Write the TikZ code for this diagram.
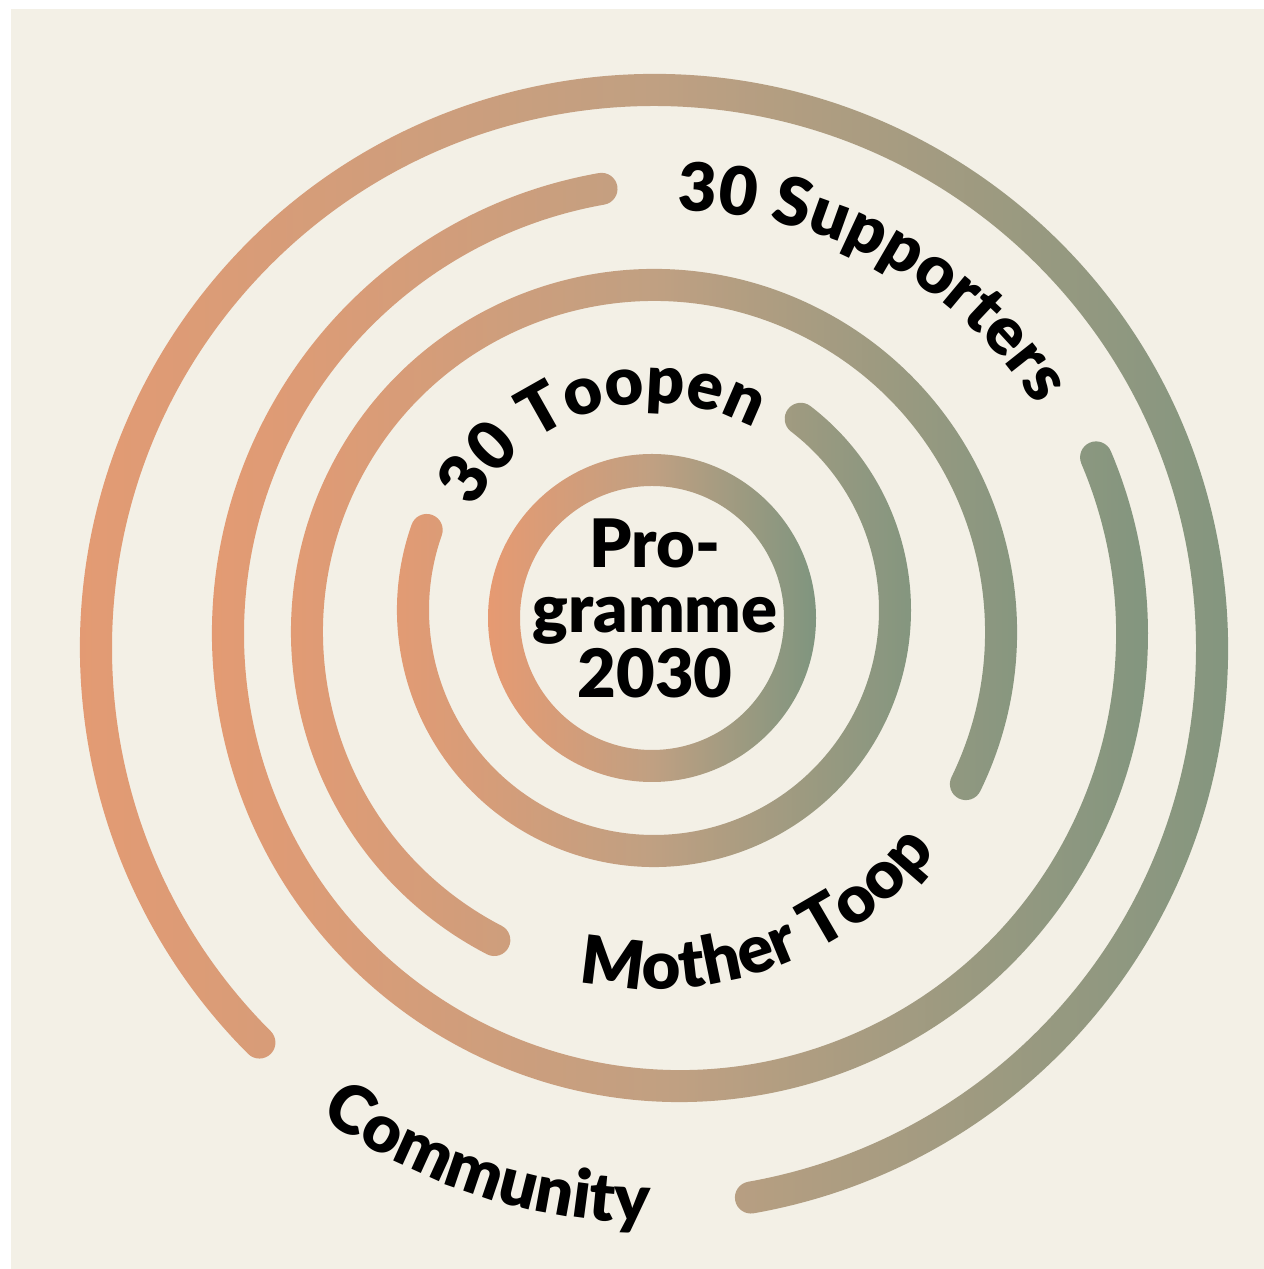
\documentclass[tikz,border=0pt]{standalone}
\usepackage{fontspec}
\setmainfont{Lato}[BoldFont={Lato Black}]
\usetikzlibrary{
    decorations.text,
}
\definecolor{paper}{HTML}{F3F0E6}
\definecolor{ringorange}{HTML}{E69A72}
\definecolor{ringtan}{HTML}{C0A082}
\definecolor{ringgreen}{HTML}{7F957F}
\tikzset{
    ring/.style={
            left color=ringorange,
            right color=ringgreen,
            middle color=ringtan,
        }
}
\tikzset{
    centrelabel/.style={
            align=center,
            inner sep=0,
            font=\bfseries\fontsize{19}{18.5}\selectfont,
        }
}
\tikzset{
    arclabel/.style={
            decorate,
            decoration={
                    text along path,
                    text={|\labelfont|#1},
                    text align=center,
                },
        }
}
\newcommand{\labelfont}{\bfseries\fontsize{19}{19}\selectfont}
\newcommand{\hw}{16}

\begin{document}
\begin{tikzpicture}[x=0.1mm, y=0.1mm]
    \useasboundingbox (0,0) rectangle (1264,1269);

    % paper
    \fill[white] (0,0) rectangle (1264,1269);
    \fill[paper] (11,0) rectangle (1264,1260);

    % inner ring
    \shade[
        ring,
        even odd rule,
    ] (652,651) circle[radius=148+\hw] (652,651) circle[radius=148-\hw];

    % open rings: centre x / centre y / radius / start / end
    \foreach \cx/\cy/\r/\a/\b in {
            654/659/241/160.6/412.5,
            654/637/347/-26/242.6,
            680/635/452/100/383,
            654/621/558/280/585
        }
        {
            \shade[ring]
                (\cx,\cy) ++(\a:{\r+\hw}) arc[start angle=\a, end angle=\b, radius=\r+\hw]
                arc[start angle=\b, end angle=\b+180, radius=\hw]
                arc[start angle=\b, end angle=\a, radius=\r-\hw]
                arc[start angle=\a+180, end angle=\a+360, radius=\hw]
                -- cycle;
        }

    % centre
    \node[
        centrelabel,
    ] (P) at (655,661) {Pro-\\gramme\\2030};

    % labels in the gaps
    \path[arclabel={30 Toopen}]
        (654,659) ++(160:207) arc[start angle=160, end angle=52, radius=207];
    \path[arclabel={30 Supporters}]
        (680,635) ++(112:423) arc[start angle=112, end angle=11, radius=423];
    \path[arclabel={Mother Toop}]
        (654,637) ++(245:357) arc[start angle=245, end angle=335, radius=357];
    \path[arclabel={Community}]
        (654,621) ++(212:575) arc[start angle=212, end angle=292, radius=575];
\end{tikzpicture}
\end{document}
